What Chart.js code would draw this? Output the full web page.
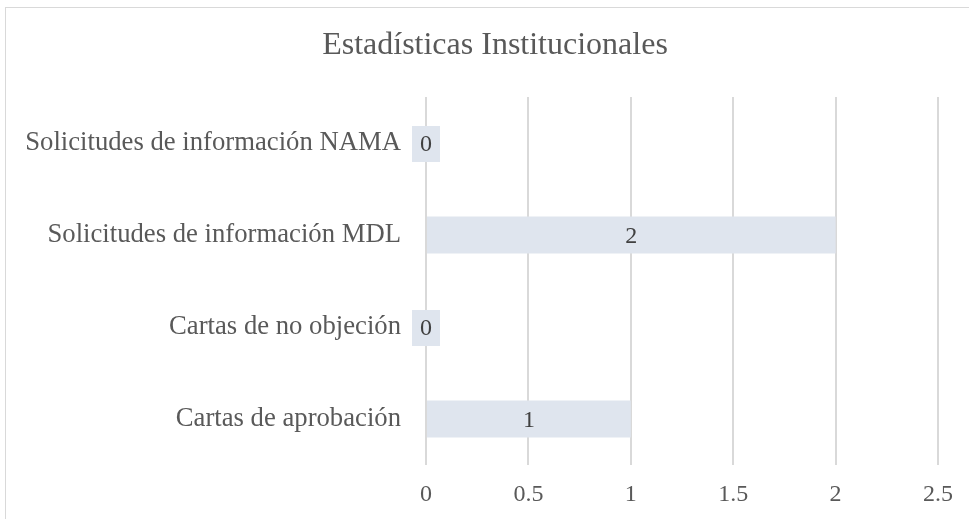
<!DOCTYPE html>
<html><head><meta charset="utf-8">
<script src="https://cdn.jsdelivr.net/npm/chart.js@4/dist/chart.umd.min.js"></script>
<style>
html,body{margin:0;padding:0;background:#fff;overflow:hidden;}
#wrap{position:relative;width:969px;height:519px;}
#frame{position:absolute;left:5px;top:7px;width:1000px;height:600px;border:1px solid #d9d9d9;box-sizing:border-box;}
canvas{position:absolute;left:0;top:0;}
</style></head>
<body><div id="wrap"><div id="frame"></div><canvas id="c" width="969" height="519"></canvas></div>
<script>
const titleText = 'Estadísticas Institucionales';
const categories = ['Solicitudes de información NAMA','Solicitudes de información MDL','Cartas de no objeción','Cartas de aprobación'];
const values = [0, 2, 0, 1];
const xTicks = [0, 0.5, 1, 1.5, 2, 2.5];

const FONT = "'Liberation Serif','Times New Roman',serif";
const BAR = '#dfe5ee';

const titlePlugin = {
  id: 'offsetTitle',
  afterDraw(chart) {
    const ctx = chart.ctx;
    ctx.save();
    ctx.font = '32px ' + FONT;
    ctx.fillStyle = '#595959';
    ctx.textAlign = 'center';
    ctx.textBaseline = 'middle';
    ctx.fillText(titleText, 495, 46);
    ctx.restore();
  }
};

const labelPlugin = {
  id: 'barLabels',
  afterDatasetsDraw(chart) {
    const ctx = chart.ctx;
    const meta = chart.getDatasetMeta(0);
    ctx.save();
    ctx.font = '24px ' + FONT;
    ctx.textAlign = 'center';
    ctx.textBaseline = 'middle';
    meta.data.forEach((el, i) => {
      const v = chart.data.datasets[0].data[i];
      const cx = (el.x + el.base) / 2;
      const txt = String(v);
      if (v === 0) {
        ctx.fillStyle = BAR;
        ctx.fillRect(el.base - 14, el.y - 17, 28, 36);
      }
      ctx.fillStyle = '#404040';
      ctx.fillText(txt, cx, el.y + 2);
    });
    ctx.restore();
  }
};

new Chart(document.getElementById('c'), {
  type: 'bar',
  data: {
    labels: categories,
    datasets: [{ data: values, backgroundColor: BAR, borderWidth: 0, barPercentage: 0.4, categoryPercentage: 1 }]
  },
  options: {
    indexAxis: 'y',
    responsive: false,
    animation: false,
    devicePixelRatio: 1,
    layout: { padding: { top: 97, right: 31, bottom: 0, left: 0 } },
    plugins: {
      legend: { display: false },
      tooltip: { enabled: false },
      title: { display: false }
    },
    scales: {
      x: {
        min: 0, max: 2.5,
        afterBuildTicks(axis) { axis.ticks = xTicks.map(v => ({ value: v })); },
        grid: { color: '#d9d9d9', lineWidth: 2, drawTicks: false },
        border: { display: false },
        ticks: { color: '#595959', font: { family: FONT, size: 24 }, padding: 15, callback: v => String(v) },
        afterFit(axis) { axis.height = 54; }
      },
      y: {
        grid: { display: false, drawTicks: false },
        border: { display: false },
        ticks: { color: '#595959', font: { family: FONT, size: 26.7 }, padding: 25 },
        afterFit(axis) { axis.width = 426; }
      }
    }
  },
  plugins: [labelPlugin, titlePlugin]
});
</script>
</body></html>
